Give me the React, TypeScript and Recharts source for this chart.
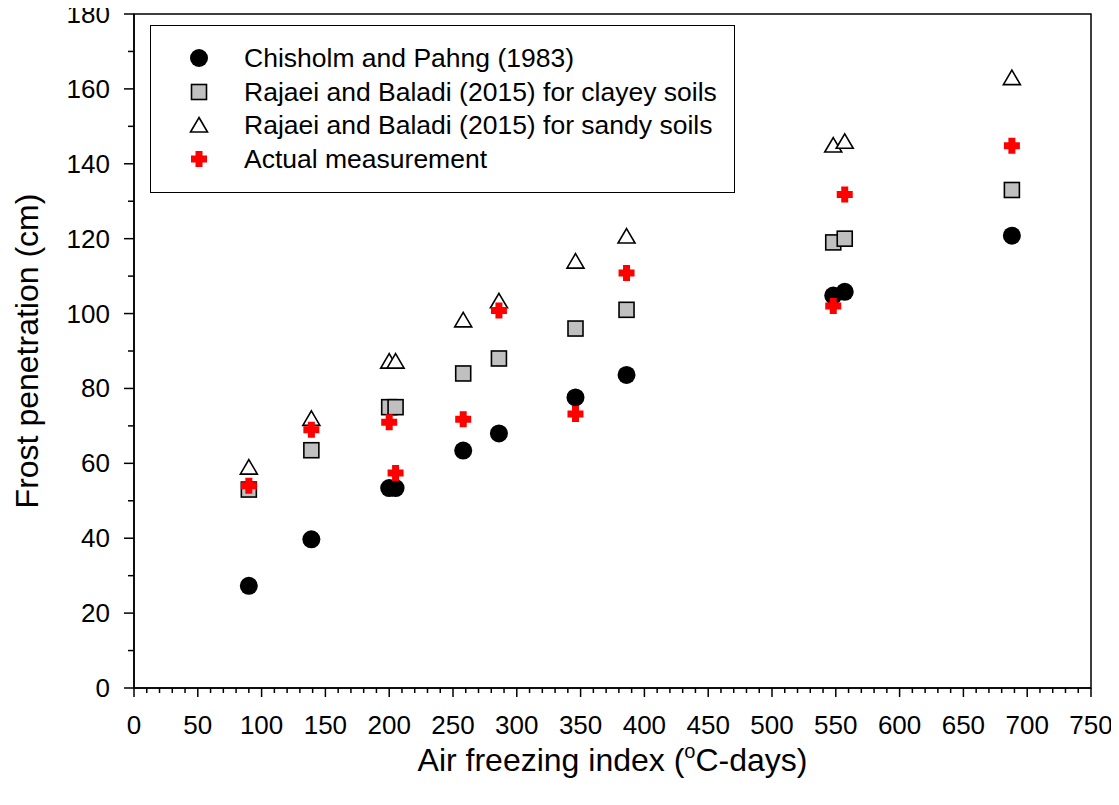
import React from 'react';
import { ScatterChart, Scatter, XAxis, YAxis, Legend, ReferenceArea, Label } from 'recharts';

// Air freezing index (°C-days) for each site
const AFI = [90, 139, 200, 205, 258, 286, 346, 386, 548, 557, 688];
// Frost penetration (cm)
const CHISHOLM = [27.3, 39.7, 53.4, 53.4, 63.4, 68, 77.6, 83.6, 104.8, 105.8, 120.8];
const CLAYEY = [53, 63.5, 75, 75, 84, 88, 96, 101, 119, 120, 133];
const SANDY = [59, 72, 87.3, 87.3, 98.3, 103.4, 114, 120.7, 145, 146, 163];
const ACTUAL = [54, 69, 71, 57.4, 71.8, 100.8, 73.2, 110.8, 102, 131.8, 144.8];

const X_MAJOR_TICKS = [0, 50, 100, 150, 200, 250, 300, 350, 400, 450, 500, 550, 600, 650, 700, 750];
const Y_MAJOR_TICKS = [0, 20, 40, 60, 80, 100, 120, 140, 160, 180];

const X_TICKS = Array.from({ length: 76 }, (_, i) => i * 10);
const Y_TICKS = Array.from({ length: 19 }, (_, i) => i * 10);

const FONT = '"Liberation Sans", Arial, sans-serif';

const toPoints = (ys: number[]) => AFI.map((x, i) => ({ x, y: ys[i] }));

const CircleMark = ({ cx, cy }: any) => <circle cx={cx} cy={cy} r={9} fill="#000" />;
const SquareMark = ({ cx, cy }: any) => (
    <rect x={cx - 7.5} y={cy - 7.5} width={15} height={15} fill="#c0c0c0" stroke="#000" strokeWidth={1.6} />
);
const TriangleMark = ({ cx, cy }: any) => (
    <path d={`M${cx},${cy - 7.5} L${cx + 8.5},${cy + 7} L${cx - 8.5},${cy + 7} Z`} fill="#fff" stroke="#000" strokeWidth={1.6} />
);
const PlusMark = ({ cx, cy }: any) => {
    const a = 8, b = 3.5;
    return (
        <path
            d={`M${cx - b},${cy - a} H${cx + b} V${cy - b} H${cx + a} V${cy + b} H${cx + b} V${cy + a} H${cx - b} V${cy + b} H${cx - a} V${cy - b} H${cx - b} Z`}
            fill="#ff0000"
        />
    );
};

const SERIES = [
    { name: 'Chisholm and Pahng (1983)', data: CHISHOLM, Mark: CircleMark },
    { name: 'Rajaei and Baladi (2015) for clayey soils', data: CLAYEY, Mark: SquareMark },
    { name: 'Rajaei and Baladi (2015) for sandy soils', data: SANDY, Mark: TriangleMark },
    { name: 'Actual measurement', data: ACTUAL, Mark: PlusMark },
];

const XTick = ({ x, y, payload }: any) => {
    const v = payload.value;
    const major = X_MAJOR_TICKS.includes(v);
    return (
        <g>
            <line x1={x} x2={x} y1={y} y2={y + (major ? 9 : 5)} stroke="#000" strokeWidth={1.5} />
            {major && (
                <text x={x} y={y + 46} textAnchor="middle" fontSize={26} fontFamily={FONT} fill="#000">{v}</text>
            )}
        </g>
    );
};

const YTick = ({ x, y, payload }: any) => {
    const v = payload.value;
    const major = Y_MAJOR_TICKS.includes(v);
    return (
        <g>
            <line x1={x - (major ? 10 : 6)} x2={x} y1={y} y2={y} stroke="#000" strokeWidth={1.5} />
            {major && (
                <text x={x - 24} y={y + 9} textAnchor="end" fontSize={26} fontFamily={FONT} fill="#000">{v}</text>
            )}
        </g>
    );
};

const LegendBox = () => (
    <div style={{ position: 'relative', width: 585, height: 168, border: '1.5px solid #000', boxSizing: 'border-box', background: '#fff', fontFamily: FONT }}>
        {SERIES.map((s, i) => (
            <div key={s.name} style={{ position: 'absolute', left: 0, top: 15 + i * 33.5, height: 34, width: '100%' }}>
                <svg width={70} height={34} style={{ position: 'absolute', left: 13, top: 0 }}>
                    <s.Mark cx={35} cy={17} />
                </svg>
                <span style={{ position: 'absolute', left: 93, top: 2, fontSize: 26.5, lineHeight: '30px', color: '#000', whiteSpace: 'nowrap' }}>{s.name}</span>
            </div>
        ))}
    </div>
);

const App = () => (
    <div style={{ fontFamily: FONT, margin: '-8px 0 0 -8px', width: 1119, height: 805 }}>
        <ScatterChart width={1119} height={805} margin={{ top: 14, right: 28, bottom: 0, left: 0 }}>
            <XAxis
                type="number"
                dataKey="x"
                domain={[0, 750]}
                ticks={X_TICKS}
                interval={0}
                tickSize={0}
                tickMargin={0}
                tickLine={false}
                tick={<XTick />}
                axisLine={{ stroke: '#000', strokeWidth: 1.5 }}
                height={117}
            >
                <Label
                    content={({ viewBox }: any) => (
                        <text x={viewBox.x + viewBox.width / 2} y={viewBox.y + 83} textAnchor="middle" fontSize={32} fontFamily={FONT} fill="#000">
                            Air freezing index (<tspan fontSize={20} dy={-13}>o</tspan><tspan dy={13}>C-days)</tspan>
                        </text>
                    )}
                />
            </XAxis>
            <YAxis
                type="number"
                dataKey="y"
                domain={[0, 180]}
                ticks={Y_TICKS}
                interval={0}
                tickSize={0}
                tickMargin={0}
                tickLine={false}
                tick={<YTick />}
                axisLine={{ stroke: '#000', strokeWidth: 1.5 }}
                width={134}
            >
                <Label
                    content={({ viewBox }: any) => {
                        const cx = 38;
                        const cy = viewBox.y + viewBox.height / 2;
                        return (
                            <text x={cx} y={cy} transform={`rotate(-90, ${cx}, ${cy})`} textAnchor="middle" fontSize={32} fontFamily={FONT} fill="#000">
                                Frost penetration (cm)
                            </text>
                        );
                    }}
                />
            </YAxis>
            <ReferenceArea x1={0} x2={750} y1={0} y2={180} fill="none" stroke="#000" strokeWidth={1.5} ifOverflow="visible" />
            {SERIES.map((s) => (
                <Scatter
                    key={s.name}
                    name={s.name}
                    data={toPoints(s.data)}
                    shape={(p: any) => <s.Mark cx={p.cx} cy={p.cy} />}
                    isAnimationActive={false}
                />
            ))}
            <Legend
                layout="horizontal"
                verticalAlign="middle"
                align="center"
                wrapperStyle={{ left: 150, top: 25, width: 585, height: 168 }}
                content={() => <LegendBox />}
            />
        </ScatterChart>
    </div>
);

export default App;
